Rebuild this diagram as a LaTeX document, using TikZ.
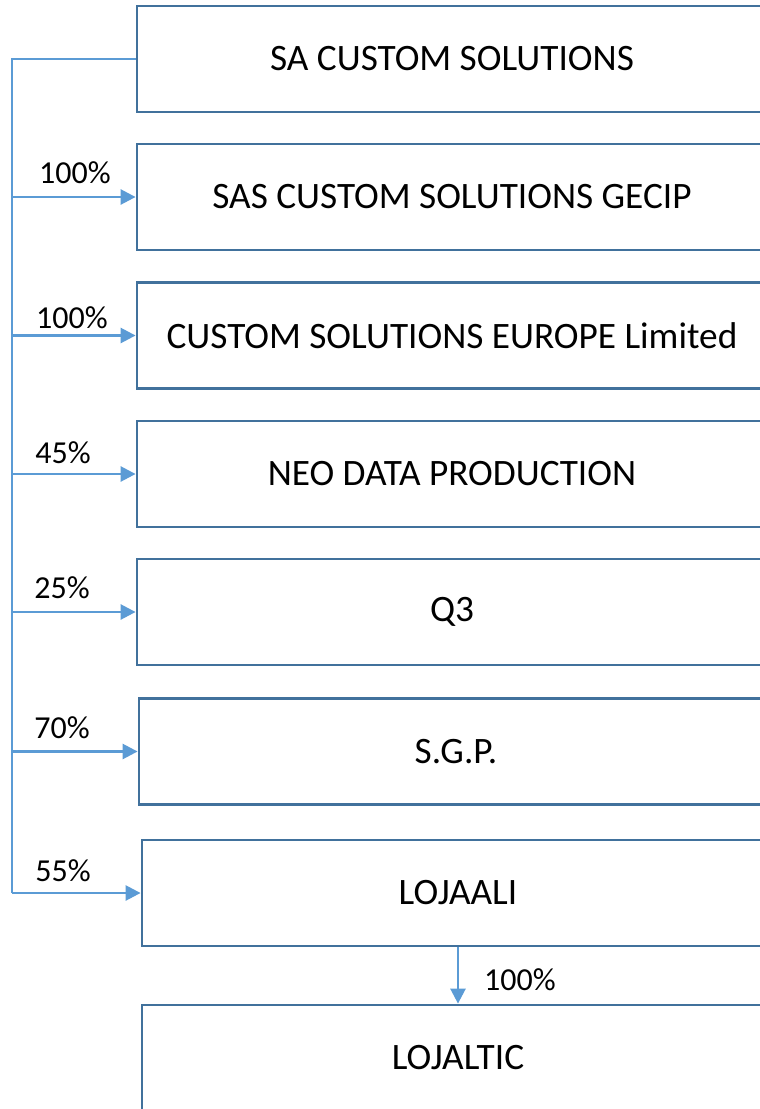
\documentclass[tikz,border=0pt]{standalone}
\usepackage{fontspec}
\setmainfont{Carlito}
\usetikzlibrary{arrows.meta}
\definecolor{boxblue}{HTML}{41719C}
\definecolor{linkblue}{HTML}{5B9BD5}
\tikzset{
  orgbox/.style={draw=boxblue, line width=2.8pt, fill=white, minimum height=106pt, inner sep=0pt, font=\fontsize{37.3}{40}\selectfont},
  link/.style={draw=linkblue, line width=2.6pt},
  linkarrow/.style={link, -{Triangle[length=15pt,width=15pt]}},
  pct/.style={font=\fontsize{32}{34}\selectfont, inner sep=0pt}
}
\begin{document}
\begin{tikzpicture}[x=1pt,y=-1pt]
\useasboundingbox (0,0) rectangle (760,1109);
\clip (0,0) rectangle (760,1109);
\node[orgbox, minimum width=630pt] (b1) at (452,59) {SA CUSTOM SOLUTIONS};
\node[orgbox, minimum width=630pt] (b2) at (452,197) {SAS CUSTOM SOLUTIONS GECIP};
\node[orgbox, minimum width=630pt] (b3) at (452,335.5) {CUSTOM SOLUTIONS EUROPE Limited};
\node[orgbox, minimum width=630pt] (b4) at (452,474) {NEO DATA PRODUCTION};
\node[orgbox, minimum width=630pt] (b5) at (452,612) {Q3};
\node[orgbox, minimum width=634pt] (b6) at (456,751.5) {S.G.P.};
\node[orgbox, minimum width=632pt] (b7) at (458,893) {LOJAALI};
\node[orgbox, minimum width=632pt] (b8) at (458,1058) {LOJALTIC};
\coordinate (t) at (12,59);
\draw[link] (b1.west) -- (t) -- (t |- b7.west);
\draw[linkarrow] (t |- b2.west) -- (b2.west);
\draw[linkarrow] (t |- b3.west) -- (b3.west);
\draw[linkarrow] (t |- b4.west) -- (b4.west);
\draw[linkarrow] (t |- b5.west) -- (b5.west);
\draw[linkarrow] (t |- b6.west) -- (b6.west);
\draw[linkarrow] (t |- b7.west) -- (b7.west);
\draw[linkarrow] (b7.south) -- (b8.north);
\node[pct] (p2) at (75,173) {100\%};
\node[pct] (p3) at (72,318) {100\%};
\node[pct] (p4) at (63,453) {45\%};
\node[pct] (p5) at (62,588) {25\%};
\node[pct] (p6) at (62,728) {70\%};
\node[pct] (p7) at (63,871) {55\%};
\node[pct] (p8) at (520,980) {100\%};
\end{tikzpicture}
\end{document}
